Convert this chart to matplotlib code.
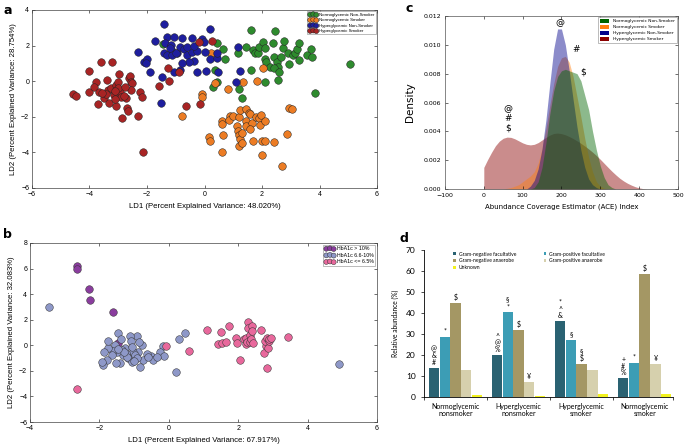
import numpy as np
import matplotlib.pyplot as plt
from matplotlib.patches import Patch

# ---------------- panel a: LDA of glycemic / smoking groups
a_labels = ["Normoglycemic Non-Smoker", "Normoglycemic Smoker",
            "Hyperglycemic Non-Smoker", "Hyperglycemic Smoker"]
a_colors = ["#2e8b2e", "#ec7c24", "#1e1e9e", "#a82424"]

a_green = [(-1.45, 2.1), (0.43, 2.13), (0.66, 1.79), (0.71, 1.23), (0.37, 0.64), (0.29, -0.34),
           (0.43, -0.07), (1.17, 1.57), (1.21, -0.45), (1.31, -0.95), (1.46, 1.91), (1.6, 2.88),
           (1.69, 1.76), (1.75, 1.57), (1.86, 1.57), (1.9, 1.94), (1.63, 0.64), (2.03, 2.22),
           (2.11, 1.85), (2.09, 1.23), (2.15, 1.05), (2.11, -0.07), (2.29, 0.82), (2.44, 2.84),
           (2.38, 2.13), (2.41, 1.35), (2.51, 1.1), (2.57, 0.82), (2.4, 0.73), (2.55, 0.04),
           (2.59, 0.54), (2.67, 1.35), (2.72, 1.85), (2.76, 2.28), (2.9, 1.61), (2.95, 0.97),
           (3.07, 1.48), (3.16, 1.57), (3.22, 1.79), (3.28, 2.17), (3.3, 1.2), (3.55, 1.48),
           (3.7, 1.79), (3.74, 1.35), (3.85, -0.64), (5.07, 0.97)]
a_orange = [(-0.8, -1.98), (-0.09, -0.71), (-0.09, -0.9), (0.22, 1.57), (0.17, -3.14), (0.2, -3.38),
            (0.37, -0.11), (0.83, -0.43), (0.6, -2.26), (0.6, -2.39), (0.63, -3.01), (0.6, -4.0),
            (0.89, -1.94), (0.86, -2.17), (1.0, -1.98), (1.2, -2.04), (1.14, -2.54), (1.17, -2.82),
            (1.21, -3.01), (1.23, -3.25), (1.21, -3.63), (1.29, -2.92), (1.31, -3.48), (1.34, -0.07),
            (1.25, -1.61), (1.46, -1.57), (1.55, -1.79), (1.43, -2.26), (1.46, -2.54), (1.57, -1.87),
            (1.66, -2.36), (1.59, -2.69), (1.69, -3.35), (1.83, 0.02), (1.78, -2.0), (1.9, -2.06),
            (1.94, -2.45), (1.98, -1.89), (2.03, 0.73), (2.0, -3.38), (2.01, -4.13), (2.11, -3.38),
            (2.11, -2.21), (2.41, -3.44), (2.69, -4.79), (2.87, -2.97), (2.95, -1.51), (3.03, -1.57)]
a_blue = [(-1.41, 3.2), (-1.72, 2.28), (-1.3, 2.5), (-1.07, 2.47), (-0.78, 2.45), (-0.44, 2.43),
          (-0.09, 2.37), (0.2, 2.92), (-1.39, 2.17), (-1.18, 2.04), (-1.13, 1.72), (-1.41, 1.57),
          (-1.3, 1.48), (-1.13, 1.48), (-0.95, 1.61), (-0.84, 1.94), (-0.72, 1.79), (-0.61, 1.48),
          (-0.44, 1.66), (-0.26, 1.72), (-0.03, 2.22), (0.02, 1.66), (0.2, 1.23), (0.43, 1.29),
          (0.43, 1.61), (-0.38, 1.16), (-0.55, 1.05), (-0.84, 0.64), (-1.07, 0.54), (-2.33, 1.63),
          (-2.1, 1.05), (-1.99, 1.23), (-2.05, 1.01), (-1.9, 0.54), (-1.47, 0.22), (-1.53, -1.23),
          (-0.26, 0.49), (0.06, 0.58), (1.08, -0.02), (1.15, 1.94), (1.25, 0.58), (0.48, 0.54),
          (-0.78, 1.01), (-1.0, 1.6), (-0.6, 1.9), (-1.2, 1.85), (-0.35, 1.95)]
a_red = [(-4.57, -0.71), (-4.46, -0.82), (-4.0, 0.6), (-4.02, -0.58), (-3.77, -0.02), (-3.83, -0.34),
         (-3.6, 1.08), (-3.66, -0.58), (-3.69, -1.27), (-3.48, -0.95), (-3.39, 0.07), (-3.34, -0.49),
         (-3.2, 1.05), (-3.25, -0.39), (-3.14, -0.77), (-3.08, -0.21), (-3.0, -0.02), (-3.31, -1.23),
         (-3.43, -0.71), (-2.97, 0.41), (-2.94, -0.58), (-2.91, -0.9), (-3.02, -0.39), (-3.08, -1.38),
         (-3.11, -1.01), (-2.86, -2.07), (-2.74, -0.95), (-2.68, -1.51), (-2.66, -1.7), (-2.79, -0.86),
         (-2.62, 0.17), (-2.59, 0.3), (-2.56, -0.02), (-2.51, -0.11), (-2.54, -0.49), (-2.33, -1.94),
         (-2.24, -0.58), (-2.16, -0.9), (-2.13, -4.0), (-0.2, 2.18), (0.26, 2.24), (-1.26, 0.73),
         (-1.24, 0.0), (-0.9, 0.54), (-1.59, -0.26), (-0.64, -1.42), (-0.14, -1.27),
         (-3.55, -0.65), (-3.1, -0.55), (-2.75, -0.3)]
a_points = [a_green, a_orange, a_blue, a_red]

# ---------------- panel b: LDA by HbA1c class
b_labels = ["HbA1c > 10%", "HbA1c 6.6-10%", "HbA1c <= 6.5%"]
b_colors = ["#8a3d9e", "#8e98c8", "#e8689c"]
b_high = [(-2.65, 6.18), (-2.65, 6.0), (-2.3, 4.42), (-2.27, 3.56), (-1.6, 2.57), (-1.45, 0.16)]
b_mid = [(-3.44, 2.96), (4.91, -1.44), (0.22, -2.07), (0.48, 0.94), (0.29, 0.47), (-0.16, -0.05),
         (-0.26, -0.5), (-0.14, -0.84), (-0.5, -0.84), (-0.45, -1.15), (-0.64, -0.71), (-0.74, -1.15),
         (-0.83, -1.68), (-0.88, -0.5), (-0.76, 0.03), (-0.93, 0.76), (-1.12, 0.76), (-1.1, 0.34),
         (-1.17, -1.02), (-1.02, -0.5), (-0.98, -0.76), (-0.93, -1.02), (-1.07, -1.28), (-1.22, -0.63),
         (-1.26, -0.24), (-1.36, -0.37), (-1.31, -0.76), (-1.41, -1.41), (-1.52, -1.36), (-1.5, -0.5),
         (-1.45, 0.99), (-1.39, 0.5), (-1.55, 0.03), (-1.6, -0.45), (-1.65, -0.76), (-1.79, -1.15),
         (-1.74, -0.24), (-1.89, -1.54), (-1.87, -0.5), (-1.74, 0.34), (-1.93, -1.28), (-1.07, -0.1),
         (-0.85, 0.29), (-0.35, -0.89), (-1.2, -0.9), (-1.0, -1.2), (-1.3, -0.5), (-0.6, -0.9),
         (-1.45, -0.3)]
b_low = [(-2.65, -3.43), (-0.07, -0.03), (0.58, -0.45), (1.1, 1.18), (1.42, 0.08), (1.51, 1.07),
         (1.54, 0.16), (1.66, 0.29), (1.73, 1.52), (1.94, 0.55), (1.96, 0.16), (2.06, -1.18),
         (2.18, 0.5), (2.21, 0.1), (2.23, 0.55), (2.25, 0.29), (2.28, 1.81), (2.28, 1.34),
         (2.33, 0.81), (2.34, 0.29), (2.37, 0.47), (2.4, 1.47), (2.4, 1.13), (2.44, 0.16),
         (2.66, 1.18), (2.73, -0.58), (2.8, -0.05), (2.77, 0.34), (2.82, 0.55), (2.85, -0.18),
         (2.9, 0.34), (2.9, 0.5), (2.95, 0.55), (2.82, -1.75), (3.43, 0.68)]
b_points = [b_high, b_mid, b_low]

# ---------------- panel c: ACE index density
c_x = list(range(0, 430, 10))
c_green = [0] * 13 + [0.0001, 0.0005, 0.0015, 0.0032, 0.0052, 0.0068, 0.0078, 0.0082, 0.0083,
                      0.0082, 0.0081, 0.0080, 0.0075, 0.0065, 0.0055, 0.0040, 0.0027, 0.0016,
                      0.0008, 0.0003, 0.0001] + [0] * 9
c_orange = [0] * 6 + [0.00005, 0.0001, 0.0002, 0.0003, 0.0005, 0.0007, 0.0009, 0.0012, 0.0018,
                      0.0028, 0.0042, 0.0058, 0.0073, 0.0085, 0.0091, 0.0092, 0.0088, 0.0078,
                      0.0064, 0.0050, 0.0035, 0.0022, 0.0012, 0.0005, 0.0002, 0.00005] + [0] * 11
c_blue = [0] * 12 + [0.0002, 0.0006, 0.0014, 0.0028, 0.0048, 0.0073, 0.0097, 0.0111, 0.0111,
                     0.0100, 0.0082, 0.0062, 0.0043, 0.0027, 0.0015, 0.0007, 0.0003, 0.0001] + [0] * 13
c_red = [0.00150, 0.00205, 0.00255, 0.00300, 0.00332, 0.00352, 0.00360, 0.00358, 0.00348, 0.00334,
         0.00320, 0.00310, 0.00306, 0.00310, 0.00322, 0.00340, 0.00358, 0.00374, 0.00385, 0.00388,
         0.00384, 0.00376, 0.00364, 0.00350, 0.00334, 0.00317, 0.00298, 0.00278, 0.00256, 0.00232,
         0.00206, 0.00178, 0.00150, 0.00123, 0.00098, 0.00075, 0.00056, 0.00040, 0.00027, 0.00016,
         0.00008, 0.00003, 0.0]
c_curves = [c_green, c_orange, c_blue, c_red]
c_colors = ["#006400", "#ff7f0e", "#00008b", "#8b0000"]
c_draw_order = [3, 1, 2, 0]

# ---------------- panel d: relative abundance by oxygen / gram class
d_groups = ["Normoglycemic\nnonsmoker", "Hyperglycemic\nnonsmoker",
            "Hyperglycemic\nsmoker", "Normoglycemic\nsmoker"]
gram_neg_fac = [13.8, 19.8, 36.0, 8.9]
gram_pos_fac = [28.7, 40.3, 27.1, 16.2]
gram_neg_ana = [44.6, 31.8, 15.7, 58.4]
gram_pos_ana = [12.8, 7.2, 13.1, 15.5]
unknown = [1.0, 0.7, 1.4, 1.4]
d_marks = [
    ["@\n&\n#", "*", "$", "", ""],
    ["^\n@\n%", "§\n*", "$", "¥", ""],
    ["*\n^\n&", "§", "§\n$", "", ""],
    ["+\n#\n%", "*", "$", "¥", ""],
]

fig = plt.figure(figsize=(6.85, 4.48), dpi=100)
sans = ["Liberation Sans", "DejaVu Sans"]


def lda_axes(ax, xlim, ylim, xt, yt, xlabel, ylabel):
    ax.set_xlim(*xlim)
    ax.set_ylim(*ylim)
    ax.set_xticks(xt)
    ax.set_yticks(yt)
    ax.tick_params(direction="in", length=2, width=0.4, labelsize=5, top=True, right=True, pad=2)
    for lab in ax.get_xticklabels() + ax.get_yticklabels():
        lab.set_family(sans)
    for s in ax.spines.values():
        s.set_linewidth(0.5)
        s.set_color("#444444")
    ax.set_xlabel(xlabel, fontsize=5.6, family=sans, labelpad=4)
    ax.set_ylabel(ylabel, fontsize=5.6, family=sans, labelpad=3)


# ---- a
ax_a = fig.add_axes([0.0467, 0.5804, 0.5037, 0.3973])
for pts, col, lab in zip(a_points, a_colors, a_labels):
    p = np.array(pts)
    ax_a.scatter(p[:, 0], p[:, 1], s=30, c=col, edgecolors="#222222", linewidths=0.35, label=lab)
lda_axes(ax_a, (-6, 6), (-6, 4), range(-6, 7, 2), range(-6, 5, 2),
         "LD1 (Percent Explained Variance: 48.020%)", "LD2 (Percent Explained Variance: 28.754%)")
ax_a.legend(loc="upper right", scatterpoints=3, markerscale=0.65, borderaxespad=0.3,
            handletextpad=0.3, labelspacing=0.3, borderpad=0.3, fancybox=False, framealpha=1,
            edgecolor="#888888", prop={"family": sans, "size": 3.2}).get_frame().set_linewidth(0.4)

# ---- b
ax_b = fig.add_axes([0.0438, 0.058, 0.5066, 0.3996])
for pts, col, lab in zip(b_points, b_colors, b_labels):
    p = np.array(pts)
    ax_b.scatter(p[:, 0], p[:, 1], s=30, c=col, edgecolors="#333333", linewidths=0.35, label=lab)
lda_axes(ax_b, (-4, 6), (-6, 8), range(-4, 7, 2), range(-6, 9, 2),
         "LD1 (Percent Explained Variance: 67.917%)", "LD2 (Percent Explained Variance: 32.083%)")
ax_b.legend(loc="upper right", scatterpoints=3, markerscale=0.65, borderaxespad=0.3,
            handletextpad=0.3, labelspacing=0.3, borderpad=0.3, fancybox=False, framealpha=1,
            edgecolor="#888888", prop={"family": sans, "size": 3.8}).get_frame().set_linewidth(0.4)

# ---- c
ax_c = fig.add_axes([0.6496, 0.5781, 0.3401, 0.3862])
for k in c_draw_order:
    ax_c.fill_between(c_x, 0, c_curves[k], color=c_colors[k], alpha=0.45, linewidth=0)
ax_c.set_xlim(-100, 500)
ax_c.set_ylim(0, 0.012)
ax_c.set_xticks(range(-100, 501, 100))
ax_c.set_yticks(np.arange(0, 0.0121, 0.002))
ax_c.set_yticklabels([f"{v:.3f}" for v in np.arange(0, 0.0121, 0.002)])
ax_c.tick_params(direction="in", length=2, width=0.4, labelsize=4.5, top=True, right=True, pad=3)
for s in ax_c.spines.values():
    s.set_linewidth(0.5)
    s.set_color("#555555")
ax_c.set_xlabel("Abundance Coverage Estimator (ACE) Index", fontsize=5, labelpad=4)
ax_c.set_ylabel("Density", fontsize=7.5, labelpad=6)
for tx, ty, t in [(195, 0.01155, "@"), (238, 0.0097, "#"), (255, 0.0081, "$"),
                  (63, 0.0056, "@"), (63, 0.0049, "#"), (63, 0.0042, "$")]:
    ax_c.text(tx, ty, t, fontsize=6.5, ha="center", va="center")
c_handles = [Patch(facecolor=col, edgecolor="none") for col in c_colors]
ax_c.legend(c_handles, a_labels, loc="upper right", fontsize=3.2, borderaxespad=0.3,
            handlelength=2.2, handleheight=0.9, handletextpad=0.8, labelspacing=0.35,
            borderpad=0.4, fancybox=False, framealpha=1,
            edgecolor="#888888").get_frame().set_linewidth(0.4)

# ---- d
ax_d = fig.add_axes([0.619, 0.1138, 0.3635, 0.3281])
d_vals = [gram_neg_fac, gram_pos_fac, gram_neg_ana, gram_pos_ana, unknown]
d_names = ["Gram-negative facultative", "Gram-positive facultative", "Gram-negative anaerobe",
           "Gram-positive anaerobe", "Unknown"]
d_colors = ["#2a6272", "#3c9db5", "#a49764", "#d6d0ad", "#f2f21e"]
x = np.arange(len(d_groups))
bars = {}
for i, (vals, col, nm) in enumerate(zip(d_vals, d_colors, d_names)):
    bars[nm] = ax_d.bar(x + (i - 2) * 0.17, vals, width=0.165, color=col, label=nm)
    for g, v in enumerate(vals):
        t = d_marks[g][i]
        if t:
            ax_d.text(x[g] + (i - 2) * 0.17, v + 1.0, t, ha="center", va="bottom",
                      fontsize=5, linespacing=0.95, family=["Lato", "DejaVu Sans"])
ax_d.set_xlim(-0.5, 3.45)
ax_d.set_ylim(0, 70)
ax_d.set_yticks(range(0, 71, 10))
ax_d.set_xticks([-0.5, 0.5, 1.5, 2.5, 3.45])
ax_d.set_xticklabels([])
ax_d.set_xticks(x, minor=True)
ax_d.set_xticklabels(d_groups, minor=True, fontsize=5, family="Lato", linespacing=1.0)
ax_d.tick_params(axis="x", which="minor", length=0, pad=4)
ax_d.tick_params(axis="x", which="major", length=2.5, width=0.5, direction="out")
ax_d.tick_params(axis="y", length=2.5, width=0.5, direction="out", labelsize=6)
for lab in ax_d.get_yticklabels():
    lab.set_family("Lato")
ax_d.spines["top"].set_visible(False)
ax_d.spines["right"].set_visible(False)
ax_d.spines["left"].set_linewidth(0.6)
ax_d.spines["bottom"].set_linewidth(0.6)
ax_d.set_ylabel("Relative abundance (%)", fontsize=4.8, family="Lato", labelpad=5)
order = ["Gram-negative facultative", "Gram-negative anaerobe", "Unknown",
         "Gram-positive facultative", "Gram-positive anaerobe"]
ax_d.legend([bars[n] for n in order], order, ncol=2, loc="upper left", bbox_to_anchor=(0.1, 1.02),
            frameon=False, handlelength=0.5, handleheight=0.5, handletextpad=0.6,
            columnspacing=5.5, labelspacing=0.35, prop={"family": "Lato", "size": 3.6})

# panel letters
for px, py, t in [(3, 4, "a"), (3, 228, "b"), (405, 2, "c"), (400, 232, "d")]:
    fig.text(px / 685, 1 - py / 448, t, fontsize=9, fontweight="bold", va="top", ha="left",
             family="DejaVu Sans")

fig.savefig("out.png", dpi=100)
